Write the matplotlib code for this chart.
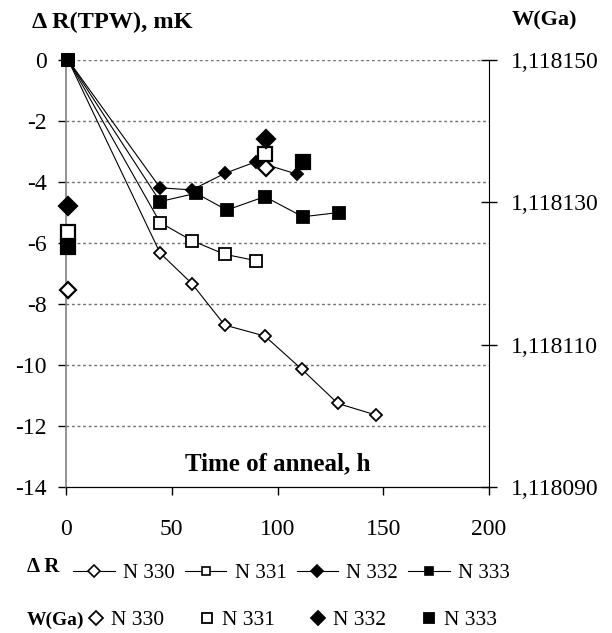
import numpy as np
import matplotlib
matplotlib.use("Agg")
import matplotlib.pyplot as plt
from matplotlib.lines import Line2D
from matplotlib.ticker import FixedLocator, FuncFormatter

plt.rcParams['font.family'] = ['Liberation Serif', 'DejaVu Serif']
plt.rcParams['axes.unicode_minus'] = False

# delta R(TPW), mK vs time of anneal, h
t330 = [1, 44.5, 59.5, 75, 94, 111.5, 128.5, 146.5]
r330 = [0, -6.33, -7.33, -8.69, -9.05, -10.14, -11.26, -11.64]
t331 = [1, 44.5, 59.5, 75, 90]
r331 = [0, -5.33, -5.92, -6.37, -6.58]
t332 = [1, 44.5, 59.5, 75, 90, 109]
r332 = [0, -4.19, -4.26, -3.72, -3.33, -3.74]
t333 = [1, 44.5, 61.5, 76, 94, 112, 129]
r333 = [0, -4.64, -4.37, -4.92, -4.48, -5.14, -5.0]

# W(Ga) points (right axis)
wt330 = [1, 94.5]
w330 = [1.1181177, 1.1181348]
wt331 = [1, 94]
w331 = [1.1181258, 1.1181368]
wt332 = [1, 94.5]
w332 = [1.1181295, 1.1181389]
wt333 = [1, 112]
w333 = [1.1181237, 1.1181356]

names = ['N 330', 'N 331', 'N 332', 'N 333']
mk = ['D', 's', 'D', 's']
fc = ['white', 'white', 'black', 'black']
small = [6.2, 8, 6.5, 8]
big = [8.5, 10.5, 9, 10.5]

fig = plt.figure(figsize=(6.12, 6.33), dpi=100)
ax = fig.add_axes([66/612, 1-487/633, 423/612, 427/633])

series = [(t330, r330), (t331, r331), (t332, r332), (t333, r333)]
for i, (t, r) in enumerate(series):
    ax.plot(t, r, color='black', lw=0.8, marker=mk[i], ms=small[i],
            mfc=fc[i], mec='black', mew=1.3, clip_on=False, zorder=3)

ax.set_xlim(0, 200)
ax.set_ylim(-14, 0)
ax.set_xticks([0, 50, 100, 150, 200])
ax.set_yticks(np.arange(-14, 1, 2))
for y in range(-12, 1, 2):
    ax.axhline(y, color='#707070', lw=1, ls=(0, (2, 2)), zorder=1)
ax.spines['top'].set_visible(False)
ax.spines['right'].set_visible(False)
ax.spines['left'].set_color('#808080')
ax.spines['left'].set_linewidth(1.2)
ax.tick_params(axis='y', direction='out', length=6, width=1, pad=8, labelsize=17)
ax.tick_params(axis='x', direction='out', length=6, width=1, pad=17, labelsize=17)

ax2 = ax.twinx()
wser = [(wt330, w330), (wt331, w331), (wt332, w332), (wt333, w333)]
for i, (t, w) in enumerate(wser):
    ax2.plot(t, w, ls='none', marker=mk[i], ms=big[i], mfc=fc[i],
             mec='black', mew=1.6, clip_on=False, zorder=4)
ax2.set_ylim(1.118090, 1.118150)
ax2.yaxis.set_major_locator(FixedLocator([1.118090, 1.118110, 1.118130, 1.118150]))
ax2.yaxis.set_major_formatter(FuncFormatter(lambda v, p: f"{v:.6f}".replace('.', ',')))
ax2.spines['top'].set_visible(False)
ax2.spines['left'].set_visible(False)
ax2.tick_params(axis='y', direction='inout', length=11, width=1, pad=10, labelsize=17)

fig.text(32/612, 1-22/633, 'Δ R(TPW), mK', fontsize=17.5, fontweight='bold', va='center')
fig.text(512/612, 1-20/633, 'W(Ga)', fontsize=16, fontweight='bold', va='center')
ax.text(100, -13.25, 'Time of anneal, h', fontsize=18, fontweight='bold',
        ha='center', va='center')

# legend rows
fig.text(27/612, 1-567/633, 'Δ R', fontsize=15, fontweight='bold', va='center')
fig.text(27/612, 1-620/633, 'W(Ga)', fontsize=14, fontweight='bold', va='center')
h1 = [Line2D([], [], color='black', lw=0.8, marker=mk[i], ms=6, mfc=fc[i],
             mec='black', mew=1.2) for i in range(4)]
h2 = [Line2D([], [], ls='none', marker=mk[i], ms=7, mfc=fc[i],
             mec='black', mew=1.3) for i in range(4)]
fig.legend(h1, names, ncol=4, loc='center left', bbox_to_anchor=(73/612, 1-573/633),
           frameon=False, fontsize=15, handlelength=2.0, handletextpad=0.4,
           columnspacing=0.48, borderpad=0, borderaxespad=0)
fig.legend(h2, names, ncol=4, loc='center left', bbox_to_anchor=(85/612, 1-620/633),
           frameon=False, fontsize=15.5, handlelength=1.0, handletextpad=0.2,
           columnspacing=1.5, borderpad=0, borderaxespad=0)

fig.savefig('out.png', dpi=100)
